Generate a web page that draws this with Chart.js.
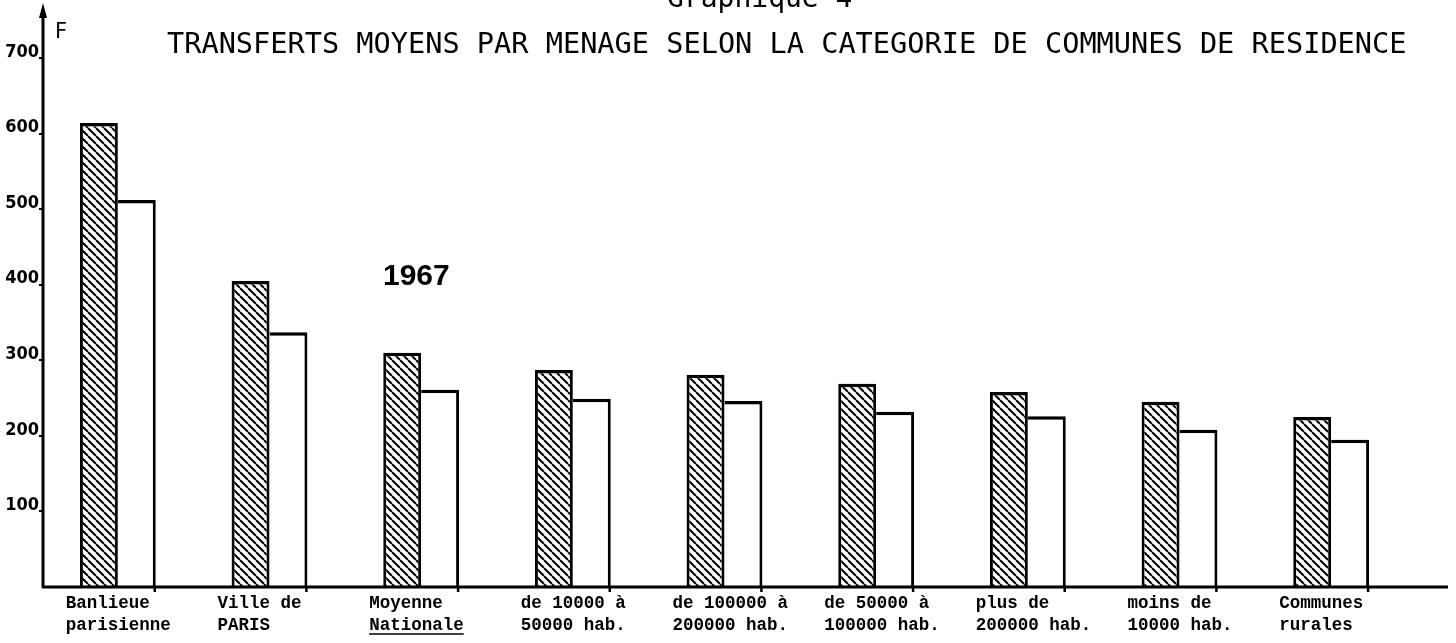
<!DOCTYPE html>
<html>
<head>
<meta charset="utf-8">
<script src="https://cdn.jsdelivr.net/npm/chart.js@4/dist/chart.umd.min.js"></script>
<style>
  body { margin: 0; background: #fff; }
  #wrap { width: 1456px; height: 643px; }
</style>
</head>
<body>
<div id="wrap"><canvas id="chart" width="1456" height="643"></canvas></div>
<script>
// Data (F par ménage, 1967)
const categories = [
    ['Banlieue', 'parisienne'],
    ['Ville de', 'PARIS'],
    ['Moyenne', 'Nationale'],
    ['de 10000 à', '50000 hab.'],
    ['de 100000 à', '200000 hab.'],
    ['de 50000 à', '100000 hab.'],
    ['plus de', '200000 hab.'],
    ['moins de', '10000 hab.'],
    ['Communes', 'rurales']
];
const hatchedValues = [614, 405, 310, 287, 281, 269, 258, 245, 225];
const plainValues = [512, 337, 261, 249, 246, 232, 226, 208, 195];
const yTicks = [100, 200, 300, 400, 500, 600, 700];

const figureLabel = 'Graphique 4';
const titleText = 'TRANSFERTS MOYENS PAR MENAGE SELON LA CATEGORIE DE COMMUNES DE RESIDENCE';
const unitLabel = 'F';
const yearLabel = '1967';

const labelFont = { family: "'Liberation Mono', 'DejaVu Sans Mono', monospace", size: 17.5, weight: 'bold', lineHeight: '22px' };
const labelShift = -52;

// Hatch pattern "\\\\" for the first series
function makeHatch() {
    const s = 8;
    const c = document.createElement('canvas');
    c.width = s; c.height = s;
    const g = c.getContext('2d');
    g.fillStyle = '#fff';
    g.fillRect(0, 0, s, s);
    g.strokeStyle = '#000';
    g.lineWidth = 2;
    [-s, 0, s].forEach(k => {
        g.beginPath();
        g.moveTo(k, 0);
        g.lineTo(k + s, s);
        g.stroke();
    });
    return document.getElementById('chart').getContext('2d').createPattern(c, 'repeat');
}

// Axes with arrow, titles and small marks
const decorations = {
    id: 'decorations',
    afterDatasetsDraw(chart) {
        const ctx = chart.ctx;
        const area = chart.chartArea;
        const xs = chart.scales.x;
        ctx.save();
        ctx.strokeStyle = '#000';
        ctx.fillStyle = '#000';
        ctx.lineWidth = 3;

        // x axis line, running past the last category
        ctx.beginPath();
        ctx.moveTo(area.left, area.bottom);
        ctx.lineTo(1448, area.bottom);
        ctx.stroke();

        // y axis line with arrow
        const ax = area.left + 1;
        ctx.beginPath();
        ctx.moveTo(ax, area.bottom + 1);
        ctx.lineTo(ax, 14);
        ctx.stroke();
        ctx.beginPath();
        ctx.moveTo(ax, 3);
        ctx.lineTo(ax - 4, 18);
        ctx.lineTo(ax + 4, 18);
        ctx.closePath();
        ctx.fill();

        // small marks under the axis at the right edge of each group
        ctx.lineWidth = 2.5;
        chart.getDatasetMeta(1).data.forEach(bar => {
            const x = bar.x + bar.width / 2 - 1;
            ctx.beginPath();
            ctx.moveTo(x, area.bottom);
            ctx.lineTo(x, area.bottom + 5);
            ctx.stroke();
        });

        // underline "Nationale"
        ctx.font = 'bold 17.5px ' + labelFont.family;
        const ux = xs.getPixelForValue(2) + labelShift;
        const uw = ctx.measureText(categories[2][1]).width;
        const uy = xs.top + 6 + 22 * 1.5 + 8;
        ctx.lineWidth = 1.5;
        ctx.beginPath();
        ctx.moveTo(ux, uy);
        ctx.lineTo(ux + uw, uy);
        ctx.stroke();

        // texts
        ctx.textAlign = 'left';
        ctx.textBaseline = 'alphabetic';
        ctx.font = "28px 'DejaVu Sans Mono', monospace";
        ctx.fillText(figureLabel, 667, 7);
        ctx.font = "28.6px 'DejaVu Sans Mono', monospace";
        ctx.fillText(titleText, 167, 53);
        ctx.font = "21px 'DejaVu Sans', sans-serif";
        ctx.fillText(unitLabel, 55, 38);
        ctx.font = "bold 30px 'Liberation Sans', Arial, sans-serif";
        ctx.fillText(yearLabel, 383, 285);
        ctx.restore();
    }
};

new Chart(document.getElementById('chart'), {
    type: 'bar',
    data: {
        labels: categories,
        datasets: [{
            label: 'Série hachurée',
            data: hatchedValues,
            backgroundColor: makeHatch(),
            borderColor: '#000',
            borderWidth: { left: 3, top: 3.5, right: 3, bottom: 0 },
            barPercentage: 1.0,
            categoryPercentage: 0.5
        }, {
            label: 'Série blanche',
            data: plainValues,
            backgroundColor: '#fff',
            borderColor: '#000',
            borderWidth: { left: 0, top: 3.5, right: 3, bottom: 0 },
            barPercentage: 1.0,
            categoryPercentage: 0.5
        }]
    },
    options: {
        responsive: false,
        devicePixelRatio: 1,
        animation: false,
        layout: { padding: { top: 58, right: 49, bottom: 0, left: 0 } },
        plugins: {
            legend: { display: false },
            tooltip: { enabled: false }
        },
        scales: {
            x: {
                offset: true,
                grid: { display: false, drawTicks: false },
                border: { display: false },
                ticks: {
                    color: '#000',
                    font: labelFont,
                    align: 'start',
                    labelOffset: labelShift,
                    padding: 6,
                    maxRotation: 0,
                    autoSkip: false
                },
                afterFit(scale) { scale.height = 56; }
            },
            y: {
                min: 0,
                max: 700,
                grid: { display: true, drawOnChartArea: false, drawTicks: true, tickLength: 3, color: '#000', lineWidth: 2 },
                border: { display: false },
                afterBuildTicks(scale) { scale.ticks = yTicks.map(v => ({ value: v })); },
                ticks: {
                    color: '#000',
                    padding: 0,
                    labelOffset: -6,
                    font: { family: "'DejaVu Sans Condensed', 'DejaVu Sans', sans-serif", size: 18, weight: 'bold' }
                },
                afterFit(scale) { scale.width = 42; }
            }
        }
    },
    plugins: [decorations]
});
</script>
</body>
</html>
